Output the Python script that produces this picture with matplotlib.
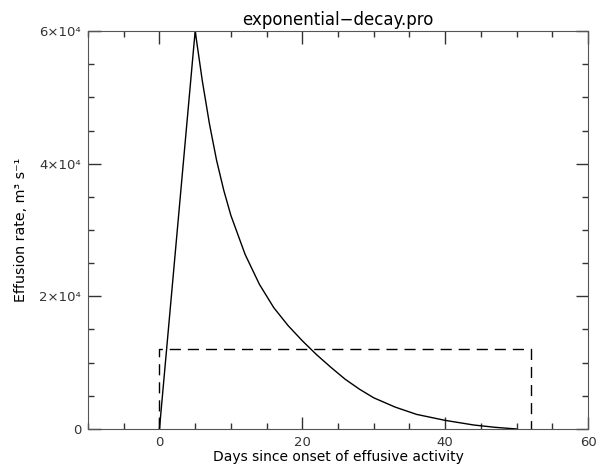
import matplotlib
matplotlib.use("Agg")
import matplotlib.pyplot as plt
from matplotlib.ticker import MultipleLocator

# effusion curve (days, m3/s)
days = [0, 5, 6, 7, 8, 9, 10, 12, 14, 16, 18, 20, 22, 24, 26, 28, 30, 33, 36, 40, 44, 47, 50]
rate = [0, 60000, 52500, 46000, 40500, 36000, 32200, 26300, 21800, 18300, 15600,
        13300, 11200, 9300, 7500, 6000, 4700, 3300, 2200, 1300, 600, 250, 0]

# mean-rate box
box_days = [0, 0, 52, 52]
box_rate = [0, 12000, 12000, 0]

yticks = [0, 20000, 40000, 60000]
ytick_labels = ["0", "2×10⁴", "4×10⁴", "6×10⁴"]

plt.rcParams["font.family"] = ["DejaVu Sans"]
fig = plt.figure(figsize=(6.02, 4.67), dpi=100)
ax = fig.add_axes([0.1462, 0.0814, 0.8306, 0.8522])

ax.plot(days, rate, color="black", linewidth=1.0)
ax.plot(box_days, box_rate, color="black", linewidth=1.0, linestyle=(0, (8, 5)))

ax.set_xlim(-10, 60)
ax.set_ylim(0, 60000)
ax.xaxis.set_major_locator(MultipleLocator(20))
ax.xaxis.set_minor_locator(MultipleLocator(5))
ax.set_yticks(yticks)
ax.set_yticklabels(ytick_labels)
ax.yaxis.set_minor_locator(MultipleLocator(5000))

ax.tick_params(which="both", direction="in", top=True, right=True,
               labelsize=9.5, colors="#333333", pad=5)
ax.tick_params(which="major", length=9, width=1.0)
ax.tick_params(which="minor", length=4.5, width=1.0)
for s in ax.spines.values():
    s.set_color("#555555")

ax.set_title("exponential−decay.pro", fontsize=12, pad=4)
ax.set_xlabel("Days since onset of effusive activity", fontsize=10, labelpad=1)
ax.set_ylabel("Effusion rate, m³ s⁻¹", fontsize=10.3, labelpad=8)

fig.savefig("out.png", dpi=100)
